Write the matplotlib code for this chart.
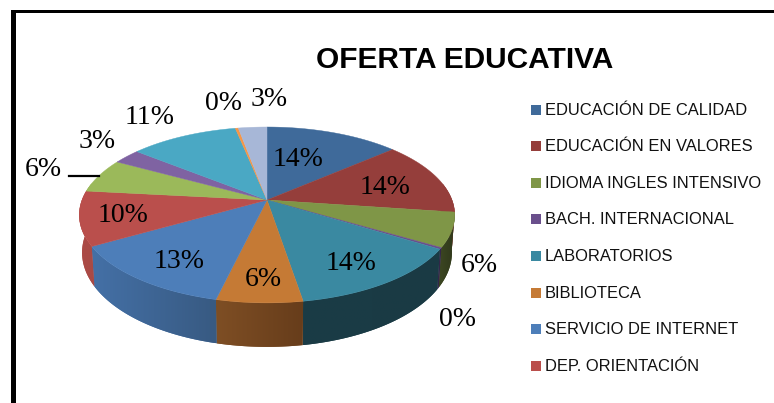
import numpy as np
import matplotlib
matplotlib.use("Agg")
import matplotlib.pyplot as plt
from matplotlib.patches import Polygon, Rectangle

title = "OFERTA EDUCATIVA"

values = [13.6, 13.6, 6.3, 0.3, 13.6, 6.3, 13.0, 10.0, 6.3, 2.8, 11.0, 0.3, 2.9]

legend_names = ["EDUCACIÓN DE CALIDAD", "EDUCACIÓN EN VALORES", "IDIOMA INGLES INTENSIVO",
                "BACH. INTERNACIONAL", "LABORATORIOS", "BIBLIOTECA",
                "SERVICIO DE INTERNET", "DEP. ORIENTACIÓN"]

top_colors = ["#3F6A9A", "#953E3B", "#7F9647", "#6A4F8C", "#3A89A1", "#C57A35", "#4D7EB9",
              "#BA4F4C", "#9BB95A", "#7F63A2", "#4AA8C4", "#F79646", "#A7B7D7"]
# wall colours, (left end, right end) of each slice as seen on screen
side_left = ["#3F6A9A", "#953E3B", "#3C4722", "#33264A", "#1A3C46", "#7E4E24", "#4470A6",
             "#AD4A45", "#9BB95A", "#7F63A2", "#4AA8C4", "#F79646", "#A7B7D7"]
side_right = ["#3F6A9A", "#953E3B", "#2E361A", "#33264A", "#1A3A44", "#673D1B", "#385A82",
              "#A84A46", "#9BB95A", "#7F63A2", "#4AA8C4", "#F79646", "#A7B7D7"]
legend_colors = top_colors[:8]

# label positions in pixels, same order as values
label_pos = [(298, 157), (385, 185), (479, 263), (457, 317), (351, 261), (263, 277), (179, 259),
             (123, 213), (43, 167), (97, 139), (150, 114), (223, 100), (269, 97)]
legend_y = [110, 146, 183, 219, 256, 293, 329, 366]

CX, CY = 267, 200
A, B, K = 185, 85.4, 0.17
DEPTH = 36.5
BASE_SCALE = 0.985


def project(theta):
    # theta clockwise from the top, simple perspective so the front looks bigger
    u, v = np.sin(theta), np.cos(theta)
    w = 1 + K * v
    return CX + A * u / w, CY - B * v / w, w


def gradient(c1, c2):
    a = np.array(matplotlib.colors.to_rgb(c1))
    b = np.array(matplotlib.colors.to_rgb(c2))
    return np.linspace(a, b, 64)[None, :, :]


fig = plt.figure(figsize=(7.74, 4.03), dpi=100)
ax = fig.add_axes([0, 0, 1, 1])
ax.axis("off")

edges = np.cumsum([0] + values) / sum(values) * 2 * np.pi

# side wall, one gradient image per slice clipped to the wall outline
for i in range(len(values)):
    ts = np.linspace(edges[i], edges[i + 1], 60)
    ts = ts[np.cos(ts) < 0.2]
    if len(ts) < 2:
        continue
    x, y, w = project(ts)
    x_low = CX + (x - CX) * BASE_SCALE
    y_low = y + DEPTH / w
    outline = np.c_[np.r_[x, x_low[::-1]], np.r_[y, y_low[::-1]]]
    wall = Polygon(outline, closed=True, fc=side_left[i], ec="none", zorder=2)
    ax.add_patch(wall)
    x0, x1 = outline[:, 0].min(), outline[:, 0].max()
    img = ax.imshow(gradient(side_left[i], side_right[i]), extent=(x0, x1, outline[:, 1].max(), outline[:, 1].min()),
                    aspect="auto", interpolation="bilinear", zorder=2.1)
    img.set_clip_path(wall)

ax.set_xlim(0, 774)
ax.set_ylim(403, 0)

# top face
for i in range(len(values)):
    ts = np.linspace(edges[i], edges[i + 1], 60)
    x, y, _ = project(ts)
    ax.fill(np.r_[CX, x], np.r_[CY, y], color=top_colors[i], lw=0.3, zorder=3)

for v, (lx, ly) in zip(values, label_pos):
    ax.text(lx, ly, f"{v:.0f}%", fontsize=20, family="Liberation Serif", color="black",
            ha="center", va="center_baseline", zorder=5)

ax.plot([69, 99], [176, 176], color="black", lw=1.6, zorder=4)

ax.text(464.5, 60, title, fontsize=21.5, fontweight="bold", family="Liberation Sans",
        ha="center", va="center")

for name, col, ly in zip(legend_names, legend_colors, legend_y):
    ax.add_patch(Rectangle((531, ly - 5), 10, 10, color=col, lw=0))
    ax.text(545, ly + 0.5, name, fontsize=11.9, family="Liberation Sans", color="#111111",
            ha="left", va="center")

# frame of the pasted chart, only left and top show
ax.add_patch(Rectangle((10.5, 10), 5.2, 393, color="black", lw=0, zorder=6))
ax.add_patch(Rectangle((10.5, 10), 763.5, 2.8, color="black", lw=0, zorder=6))

fig.savefig("out.png", dpi=100)
